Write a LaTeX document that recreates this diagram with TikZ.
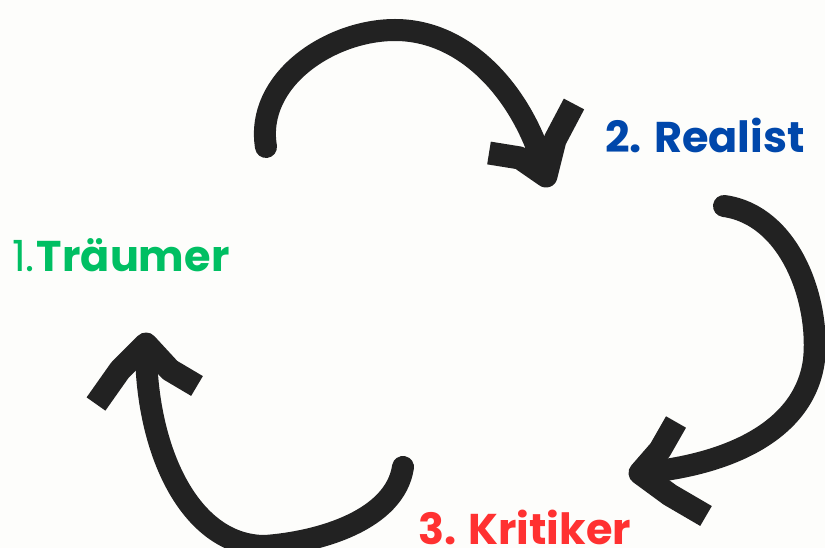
\documentclass[tikz,border=0pt]{standalone}
\usepackage{fontspec}
\setmainfont{Poppins}
\definecolor{ink}{HTML}{222222}
\definecolor{traum}{HTML}{00BF63}
\definecolor{real}{HTML}{0047AB}
\definecolor{krit}{HTML}{FF3131}
\definecolor{bg}{HTML}{FDFDFB}
\begin{document}
\begin{tikzpicture}[x=1pt,y=-1pt,
  brush/.style={draw=ink,line width=22pt,line cap=round,line join=round},
  barb/.style={draw=ink,line width=23pt,line cap=butt,line join=round},
  lbl/.style={anchor=base west,inner sep=0pt,font=\fontsize{43}{50}\selectfont\bfseries}]
\fill[bg] (0,0) rectangle (825,548);
\useasboundingbox (0,0) rectangle (825,548);
% labels
\node[lbl,text=traum] (t1) at (12,272) {{\mdseries 1.}\kern2ptTräumer};
\node[lbl,text=real] (t2) at (605,153) {2. Realist};
\node[lbl,text=krit] (t3) at (418,544) {3. Kritiker};
% arrow 1 (top)
\coordinate (a1s) at (266,147);
\coordinate (a1t) at (546,176);
\path[brush] (a1s) .. controls (255,80) and (330,30) .. (395,30)
  .. controls (470,30) and (527,100) .. (a1t);
\path[barb] (489,153) -- (520,158) -- (a1t) -- (555,140) -- (574,104);
% arrow 2 (right)
\coordinate (a2s) at (724,206);
\coordinate (a2t) at (640,473);
\path[brush] (a2s) .. controls (790,215) and (820,300) .. (814,360)
  .. controls (805,430) and (730,465) .. (a2t);
\path[barb] (676,422) -- (660,450) -- (a2t) -- (670,495) -- (706,516);
% arrow 3 (bottom left)
\coordinate (a3s) at (403,467);
\coordinate (a3t) at (146,344);
\path[brush] (a3s) .. controls (395,520) and (320,542) .. (265,546)
  .. controls (190,546) and (145,450) .. (a3t);
\path[barb] (96,404) -- (120,370) -- (a3t) -- (170,370) -- (197,386);
\end{tikzpicture}
\end{document}
